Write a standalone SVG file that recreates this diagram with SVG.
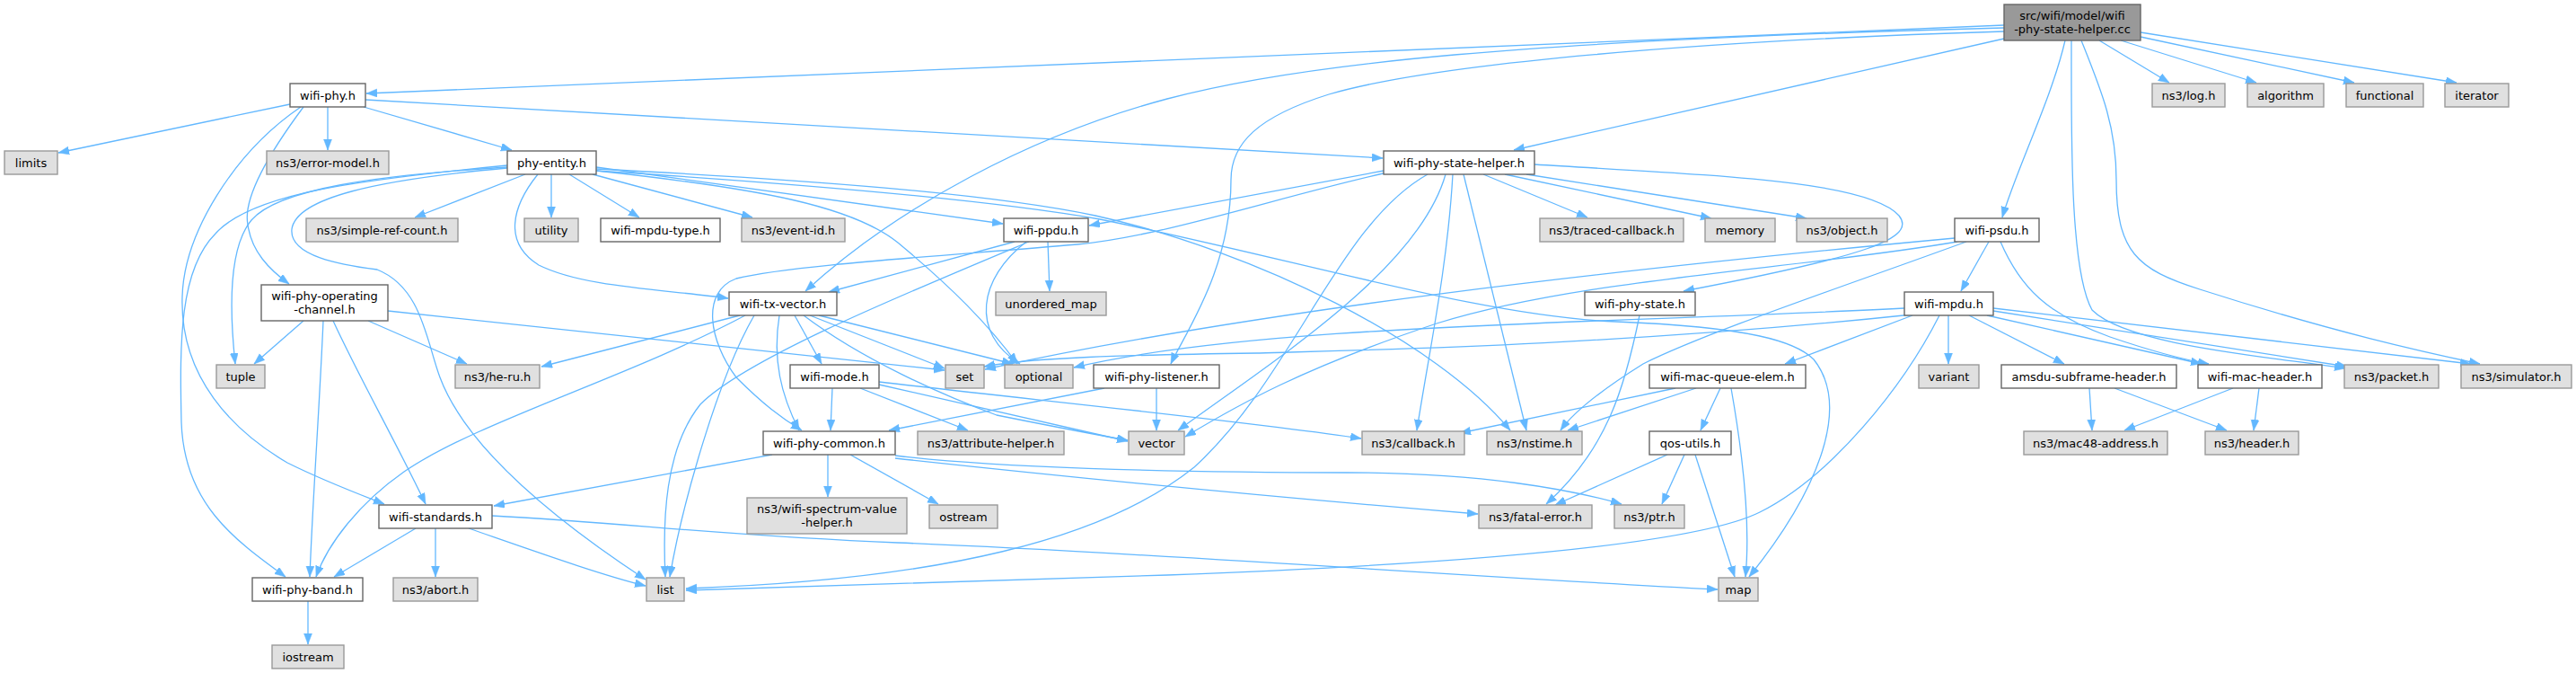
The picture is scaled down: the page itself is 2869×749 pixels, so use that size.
<svg xmlns="http://www.w3.org/2000/svg" width="2869" height="749" viewBox="0 0 2869 749">
<defs>
<style>
.n rect{fill:#ffffff;stroke:#666666;stroke-width:1.4}
.g rect{fill:#e0e0e0;stroke:#999999;stroke-width:1.4}
.m rect{fill:#999999;stroke:#666666;stroke-width:1.4}
text{font-family:"DejaVu Sans","Liberation Sans",sans-serif;font-size:13px;fill:#000000;text-anchor:middle}
#edges path{fill:none;stroke:#63b8ff;stroke-width:1.3;marker-end:url(#a)}
</style>
<marker id="a" markerUnits="userSpaceOnUse" markerWidth="12" markerHeight="10" refX="12" refY="4.5" orient="auto">
<path d="M0,0 L12,4.5 L0,9 z" fill="#63b8ff" stroke="#63b8ff" stroke-width="0.5"/>
</marker>
</defs>
<rect x="0" y="0" width="2869" height="749" fill="#ffffff"/>
<g id="edges">
<path d="M2232,28 L408,104"/>
<path d="M2232,43 L1686,167"/>
<path d="M2232,31 C1700,45 1450,70 1300,110 C1150,150 1000,230 897,324"/>
<path d="M2232,35 C1900,45 1600,70 1480,105 C1400,130 1371,160 1371,200 C1371,300 1320,370 1304,405"/>
<path d="M2300,45 C2285,110 2245,190 2230,242"/>
<path d="M2338,45 L2416,92"/>
<path d="M2362,45 L2513,92"/>
<path d="M2384,41 L2622,92"/>
<path d="M2384,36 L2736,92"/>
<path d="M2307,45 C2307,150 2305,300 2330,345 C2370,385 2530,397 2612,410"/>
<path d="M2318,45 C2340,100 2357,140 2357,200 C2357,280 2380,300 2450,322 C2600,370 2700,392 2762,405"/>
<path d="M323,116 L65,170"/>
<path d="M365,119 L365,167"/>
<path d="M405,119 L570,167"/>
<path d="M407,111 L1540,176"/>
<path d="M338,119 C300,170 270,220 276,250 C280,280 300,300 322,316"/>
<path d="M335,119 C260,170 205,260 203,330 C200,420 260,480 320,515 C360,535 400,550 428,561"/>
<path d="M565,184 C400,200 280,215 240,260 C200,300 200,380 202,470 C205,560 260,600 318,642"/>
<path d="M585,194 L462,242"/>
<path d="M614,194 L614,242"/>
<path d="M634,194 L712,242"/>
<path d="M660,194 L838,242"/>
<path d="M664,186 L1117,249"/>
<path d="M599,194 C570,230 560,270 600,295 C650,320 740,322 811,332"/>
<path d="M565,186 C420,195 310,210 280,245 C255,275 255,340 262,405"/>
<path d="M565,187 C420,200 330,220 325,255 C322,285 380,295 420,300 C470,320 475,380 490,420 C520,500 620,580 719,645"/>
<path d="M664,190 C850,210 950,230 1000,270 C1060,320 1100,360 1133,405"/>
<path d="M664,188 C900,200 1100,215 1220,240 C1400,280 1600,380 1682,479"/>
<path d="M664,190 C900,205 1100,222 1225,244 C1450,290 1650,352 1800,358 C1950,364 2000,380 2020,400 C2060,450 2030,540 1948,642"/>
<path d="M1541,190 L1213,251"/>
<path d="M1545,192 C1420,220 1300,262 1200,272 C1050,285 880,295 820,310 C780,325 790,380 820,420 C850,450 870,465 893,479"/>
<path d="M1590,194 C1490,250 1440,420 1330,520 C1230,600 1050,645 764,655"/>
<path d="M1610,194 C1580,300 1420,400 1312,479"/>
<path d="M1618,194 C1612,300 1590,400 1578,479"/>
<path d="M1630,194 L1700,479"/>
<path d="M1652,194 L1768,242"/>
<path d="M1676,194 L1906,243"/>
<path d="M1700,194 L2012,243"/>
<path d="M1709,183 C1900,195 2080,200 2115,240 C2135,265 2080,285 1875,324"/>
<path d="M1130,269 L923,325"/>
<path d="M1167,269 L1169,324"/>
<path d="M1143,269 C1090,310 1080,370 1136,405"/>
<path d="M1146,269 C1000,330 830,400 780,450 C740,500 738,580 741,642"/>
<path d="M885,351 L915,405"/>
<path d="M902,351 L1052,410"/>
<path d="M912,351 L1128,405"/>
<path d="M868,351 C860,400 870,440 890,479"/>
<path d="M824,351 L603,408"/>
<path d="M840,351 C800,420 760,560 746,642"/>
<path d="M830,351 C700,420 530,470 450,525 C400,560 365,605 352,642"/>
<path d="M895,351 C960,400 1050,440 1110,462 C1160,472 1210,482 1256,490"/>
<path d="M927,432 L925,479"/>
<path d="M958,432 L1078,479"/>
<path d="M979,428 L1256,491"/>
<path d="M979,425 C1150,445 1400,470 1516,488"/>
<path d="M1230,432 L990,479"/>
<path d="M1288,432 L1288,479"/>
<path d="M338,357 L283,405"/>
<path d="M410,357 L520,405"/>
<path d="M432,346 L1052,412"/>
<path d="M360,357 C356,450 348,560 345,642"/>
<path d="M371,357 C400,420 440,490 474,561"/>
<path d="M463,588 L372,642"/>
<path d="M485,588 L485,642"/>
<path d="M522,588 C600,615 670,640 719,652"/>
<path d="M548,574 C700,582 800,596 1000,604 C1300,616 1600,640 1913,656"/>
<path d="M860,506 L550,563"/>
<path d="M922,506 L922,553"/>
<path d="M947,506 L1045,561"/>
<path d="M997,510 C1200,532 1450,556 1646,572"/>
<path d="M997,507 C1100,520 1300,526 1500,526 C1650,526 1750,545 1806,561"/>
<path d="M1826,351 C1810,430 1790,500 1722,561"/>
<path d="M1866,432 L1626,482"/>
<path d="M1889,432 L1746,479"/>
<path d="M1916,432 L1894,479"/>
<path d="M1928,432 C1940,500 1950,580 1944,642"/>
<path d="M1857,506 L1732,562"/>
<path d="M1876,506 L1851,561"/>
<path d="M1888,506 L1932,642"/>
<path d="M2177,265 C1800,300 1400,345 1097,411"/>
<path d="M2180,269 C2000,300 1760,310 1600,360 C1450,410 1380,450 1320,486"/>
<path d="M2190,269 C2050,320 1900,370 1830,405 C1790,430 1755,455 1738,479"/>
<path d="M2215,269 L2184,324"/>
<path d="M2228,269 C2250,320 2280,350 2350,375 C2400,392 2430,400 2460,405"/>
<path d="M2121,343 C1800,360 1400,360 1196,409"/>
<path d="M2130,350 C1800,385 1500,390 1400,393 C1250,395 1150,398 1096,408"/>
<path d="M2160,351 C2120,430 2040,530 1960,570 C1900,600 1700,625 1300,640 C1100,646 900,652 764,657"/>
<path d="M2170,351 L2170,405"/>
<path d="M2193,351 L2299,405"/>
<path d="M2213,351 L2452,405"/>
<path d="M2220,346 L2614,408"/>
<path d="M2220,343 L2752,405"/>
<path d="M2130,351 L1988,405"/>
<path d="M2327,432 L2330,479"/>
<path d="M2355,432 L2480,479"/>
<path d="M2487,432 L2366,479"/>
<path d="M2516,432 L2510,479"/>
<path d="M343,669 L343,717"/>
</g>
<g id="node-main" class="m"><rect x="2232" y="5" width="152" height="40"/><text x="2308" y="21.5">src/wifi/model/wifi</text><text x="2308" y="36.5">-phy-state-helper.cc</text></g>
<g id="node-wifi-phy" class="n"><rect x="323" y="93" width="84" height="26"/><text x="365" y="110.5">wifi-phy.h</text></g>
<g id="node-log" class="g"><rect x="2397" y="93" width="81" height="26"/><text x="2437.5" y="110.5">ns3/log.h</text></g>
<g id="node-algorithm" class="g"><rect x="2503" y="93" width="85" height="26"/><text x="2545.5" y="110.5">algorithm</text></g>
<g id="node-functional" class="g"><rect x="2613" y="93" width="86" height="26"/><text x="2656" y="110.5">functional</text></g>
<g id="node-iterator" class="g"><rect x="2723" y="93" width="71" height="26"/><text x="2758.5" y="110.5">iterator</text></g>
<g id="node-limits" class="g"><rect x="5" y="168" width="59" height="26"/><text x="34.5" y="185.5">limits</text></g>
<g id="node-error-model" class="g"><rect x="297" y="168" width="136" height="26"/><text x="365" y="185.5">ns3/error-model.h</text></g>
<g id="node-phy-entity" class="n"><rect x="565" y="168" width="99" height="26"/><text x="614.5" y="185.5">phy-entity.h</text></g>
<g id="node-wifi-phy-state-helper" class="n"><rect x="1541" y="168" width="168" height="26"/><text x="1625" y="185.5">wifi-phy-state-helper.h</text></g>
<g id="node-simple-ref-count" class="g"><rect x="341" y="243" width="169" height="26"/><text x="425.5" y="260.5">ns3/simple-ref-count.h</text></g>
<g id="node-utility" class="g"><rect x="584" y="243" width="60" height="26"/><text x="614" y="260.5">utility</text></g>
<g id="node-wifi-mpdu-type" class="n"><rect x="669" y="243" width="133" height="26"/><text x="735.5" y="260.5">wifi-mpdu-type.h</text></g>
<g id="node-event-id" class="g"><rect x="826" y="243" width="115" height="26"/><text x="883.5" y="260.5">ns3/event-id.h</text></g>
<g id="node-wifi-ppdu" class="n"><rect x="1118" y="243" width="94" height="26"/><text x="1165" y="260.5">wifi-ppdu.h</text></g>
<g id="node-traced-callback" class="g"><rect x="1715" y="243" width="160" height="26"/><text x="1795" y="260.5">ns3/traced-callback.h</text></g>
<g id="node-memory" class="g"><rect x="1899" y="243" width="78" height="26"/><text x="1938" y="260.5">memory</text></g>
<g id="node-object" class="g"><rect x="2001" y="243" width="101" height="26"/><text x="2051.5" y="260.5">ns3/object.h</text></g>
<g id="node-wifi-psdu" class="n"><rect x="2177" y="243" width="94" height="26"/><text x="2224" y="260.5">wifi-psdu.h</text></g>
<g id="node-wifi-phy-operating-channel" class="n"><rect x="291" y="317" width="141" height="40"/><text x="361.5" y="333.5">wifi-phy-operating</text><text x="361.5" y="348.5">-channel.h</text></g>
<g id="node-wifi-tx-vector" class="n"><rect x="812" y="325" width="120" height="26"/><text x="872" y="342.5">wifi-tx-vector.h</text></g>
<g id="node-unordered-map" class="g"><rect x="1109" y="325" width="123" height="26"/><text x="1170.5" y="342.5">unordered_map</text></g>
<g id="node-wifi-phy-state" class="n"><rect x="1765" y="325" width="123" height="26"/><text x="1826.5" y="342.5">wifi-phy-state.h</text></g>
<g id="node-wifi-mpdu" class="n"><rect x="2121" y="325" width="99" height="26"/><text x="2170.5" y="342.5">wifi-mpdu.h</text></g>
<g id="node-tuple" class="g"><rect x="241" y="406" width="54" height="26"/><text x="268" y="423.5">tuple</text></g>
<g id="node-he-ru" class="g"><rect x="507" y="406" width="94" height="26"/><text x="554" y="423.5">ns3/he-ru.h</text></g>
<g id="node-wifi-mode" class="n"><rect x="880" y="406" width="99" height="26"/><text x="929.5" y="423.5">wifi-mode.h</text></g>
<g id="node-set" class="g"><rect x="1053" y="406" width="43" height="26"/><text x="1074.5" y="423.5">set</text></g>
<g id="node-optional" class="g"><rect x="1119" y="406" width="76" height="26"/><text x="1157" y="423.5">optional</text></g>
<g id="node-wifi-phy-listener" class="n"><rect x="1218" y="406" width="140" height="26"/><text x="1288" y="423.5">wifi-phy-listener.h</text></g>
<g id="node-wifi-mac-queue-elem" class="n"><rect x="1837" y="406" width="174" height="26"/><text x="1924" y="423.5">wifi-mac-queue-elem.h</text></g>
<g id="node-variant" class="g"><rect x="2137" y="406" width="67" height="26"/><text x="2170.5" y="423.5">variant</text></g>
<g id="node-amsdu-subframe-header" class="n"><rect x="2229" y="406" width="195" height="26"/><text x="2326.5" y="423.5">amsdu-subframe-header.h</text></g>
<g id="node-wifi-mac-header" class="n"><rect x="2448" y="406" width="138" height="26"/><text x="2517" y="423.5">wifi-mac-header.h</text></g>
<g id="node-packet" class="g"><rect x="2611" y="406" width="105" height="26"/><text x="2663.5" y="423.5">ns3/packet.h</text></g>
<g id="node-simulator" class="g"><rect x="2741" y="406" width="123" height="26"/><text x="2802.5" y="423.5">ns3/simulator.h</text></g>
<g id="node-wifi-phy-common" class="n"><rect x="850" y="480" width="147" height="26"/><text x="923.5" y="497.5">wifi-phy-common.h</text></g>
<g id="node-attribute-helper" class="g"><rect x="1022" y="480" width="163" height="26"/><text x="1103.5" y="497.5">ns3/attribute-helper.h</text></g>
<g id="node-vector" class="g"><rect x="1257" y="480" width="62" height="26"/><text x="1288" y="497.5">vector</text></g>
<g id="node-callback" class="g"><rect x="1517" y="480" width="114" height="26"/><text x="1574" y="497.5">ns3/callback.h</text></g>
<g id="node-nstime" class="g"><rect x="1656" y="480" width="106" height="26"/><text x="1709" y="497.5">ns3/nstime.h</text></g>
<g id="node-qos-utils" class="n"><rect x="1837" y="480" width="91" height="26"/><text x="1882.5" y="497.5">qos-utils.h</text></g>
<g id="node-mac48-address" class="g"><rect x="2254" y="480" width="160" height="26"/><text x="2334" y="497.5">ns3/mac48-address.h</text></g>
<g id="node-header" class="g"><rect x="2456" y="480" width="104" height="26"/><text x="2508" y="497.5">ns3/header.h</text></g>
<g id="node-wifi-standards" class="n"><rect x="422" y="562" width="126" height="26"/><text x="485" y="579.5">wifi-standards.h</text></g>
<g id="node-wifi-spectrum-value-helper" class="g"><rect x="832" y="554" width="178" height="40"/><text x="921" y="570.5">ns3/wifi-spectrum-value</text><text x="921" y="585.5">-helper.h</text></g>
<g id="node-ostream" class="g"><rect x="1035" y="562" width="76" height="26"/><text x="1073" y="579.5">ostream</text></g>
<g id="node-fatal-error" class="g"><rect x="1647" y="562" width="126" height="26"/><text x="1710" y="579.5">ns3/fatal-error.h</text></g>
<g id="node-ptr" class="g"><rect x="1798" y="562" width="78" height="26"/><text x="1837" y="579.5">ns3/ptr.h</text></g>
<g id="node-wifi-phy-band" class="n"><rect x="281" y="643" width="123" height="26"/><text x="342.5" y="660.5">wifi-phy-band.h</text></g>
<g id="node-abort" class="g"><rect x="438" y="643" width="94" height="26"/><text x="485" y="660.5">ns3/abort.h</text></g>
<g id="node-list" class="g"><rect x="720" y="643" width="42" height="26"/><text x="741" y="660.5">list</text></g>
<g id="node-map" class="g"><rect x="1914" y="643" width="44" height="26"/><text x="1936" y="660.5">map</text></g>
<g id="node-iostream" class="g"><rect x="303" y="718" width="80" height="26"/><text x="343" y="735.5">iostream</text></g>
</svg>
